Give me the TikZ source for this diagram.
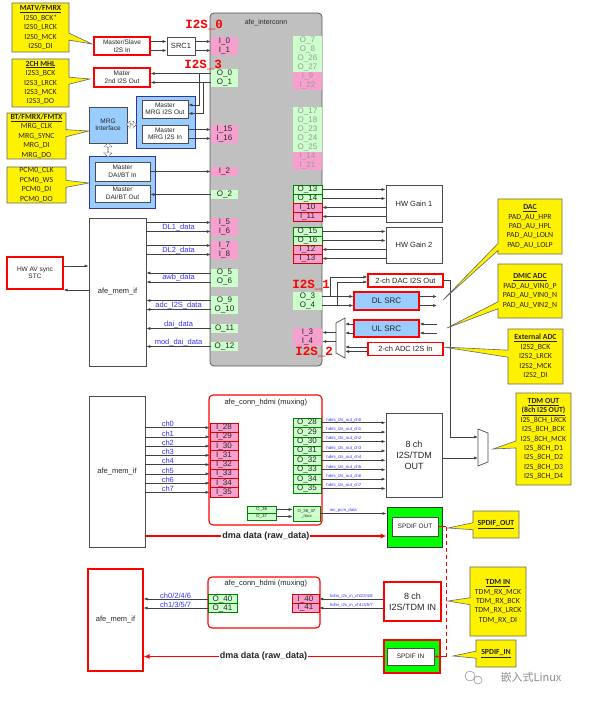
\documentclass[tikz,border=0pt]{standalone}
\usepackage{fontspec}
\setmainfont{Liberation Sans}
\newfontfamily\callfont{Carlito}
\newfontfamily\tagfont{Liberation Mono}
\newfontfamily\cjkfont{Noto Sans CJK SC}
\usetikzlibrary{positioning, shapes.geometric, shapes.arrows, shapes.callouts, arrows.meta, calc}

\definecolor{pinkport}{RGB}{246,160,206}
\definecolor{greenport}{RGB}{204,255,204}
\definecolor{grayblk}{RGB}{192,192,192}
\definecolor{lblue}{RGB}{153,204,255}
\definecolor{lblbl}{RGB}{51,51,255}
\definecolor{spdifg}{RGB}{0,255,0}

\begin{document}
\begin{tikzpicture}[
    x=1pt, y=-1pt,
    sz/.style 2 args={minimum width=#1pt, minimum height=#2pt},
    arr/.style={
        -{Latex[length=4pt,width=3pt]},
        draw=black!75,
        line width=0.7pt
    },
    box/.style={
        rectangle,
        draw=black!70,
        fill=white,
        line width=0.7pt,
        inner sep=0pt,
        align=center,
        text=black!85,
        font=\fontsize{6.5}{7.5}\selectfont
    },
    redbox/.style={
        box,
        draw=red,
        line width=1.1pt
    },
    grp/.style={
        rectangle,
        draw=blue!50!black!80,
        fill=lblue,
        line width=1pt
    },
    hdmi/.style={
        rectangle,
        draw=red,
        fill=white,
        rounded corners=4pt,
        line width=1.1pt
    },
    port/.style={
        rectangle,
        inner sep=0pt,
        minimum width=27pt,
        minimum height=9pt,
        text=black!85,
        font=\fontsize{8}{8}\selectfont
    },
    inp/.style={port, fill=pinkport},
    outp/.style={port, fill=greenport},
    inpb/.style={inp, draw=red!85!black, line width=0.6pt},
    outpb/.style={outp, draw=green!50!black, line width=0.6pt},
    faded/.style={text=black!40},
    lbl/.style={
        text=lblbl,
        inner sep=0.3pt,
        font=\fontsize{7.5}{7.5}\selectfont
    },
    tinylbl/.style={
        text=lblbl,
        inner sep=0.3pt,
        font=\fontsize{4.3}{4.3}\selectfont
    },
    tag/.style={
        text=red,
        font=\tagfont\bfseries\fontsize{12.5}{12.5}\selectfont
    },
    callbox/.style={
        rectangle callout,
        draw=black!60,
        fill=yellow,
        line width=0.6pt,
        inner sep=0pt,
        align=center,
        callout pointer width=7pt,
        text=black!85,
        font=\callfont\fontsize{7.8}{9.4}\selectfont
    },
    dbl/.style={
        double arrow,
        draw=black!70,
        fill=white,
        line width=0.5pt,
        dash pattern=on 1pt off 0.8pt,
        inner sep=0pt,
        double arrow head extend=1.5pt
    },
    mux/.style={draw=black!70, fill=white, line width=0.7pt},
    dma/.style={
        -{Latex[length=6pt,width=5pt]},
        draw=red,
        line width=1.1pt
    },
    dmalbl/.style={
        fill=white,
        inner sep=1pt,
        text=black!85,
        font=\bfseries\fontsize{9}{9}\selectfont
    },
    loopline/.style={
        draw=red,
        line width=0.9pt
    }
]

\useasboundingbox (0,0) rectangle (589,703);

% --- afe_interconn ---
\node[rectangle, draw=black!65, fill=grayblk, rounded corners=4pt, line width=0.8pt, sz={112}{353}] (inter) at (266,189.5) {};
\node[anchor=north, text=black!85, font=\fontsize{7}{7}\selectfont] (intertitle) at (266,16) {afe\_interconn};

% left column
\foreach \n/\yy in {0/41.5,1/50.5,15/129.5,16/138.5,2/171.5,5/222.5,6/231.5,7/245.5,8/254.5}
    \node[inp] (i\n) at (224.5,\yy) {I\_\n};
\foreach \n/\yy in {0/73.5,1/82.5,2/194.5,5/273,6/282,9/300.5,10/309.5,11/328.5,12/346.5}
    \node[outp] (o\n) at (224.5,\yy) {O\_\n};

% right column
\foreach \n/\yy in {7/40.5,8/49.5,26/58.5,27/67.5,17/111.5,18/120.5,23/129.5,24/138.5,25/147.5}
    \node[outp, faded, minimum width=29pt] (o\n) at (307.5,\yy) {O\_\n};
\foreach \n/\yy in {9/76.5,22/85.5,14/156.5,21/165.5}
    \node[inp, faded, minimum width=29pt] (i\n) at (307.5,\yy) {I\_\n};
\foreach \n/\yy in {13/189.5,14/198.5,15/231.5,16/240.5}
    \node[outpb, minimum width=29pt] (o\n) at (307.5,\yy) {O\_\n};
\foreach \n/\yy in {10/207.5,11/216.5,12/249.5,13/258.5}
    \node[inpb, minimum width=29pt] (i\n) at (307.5,\yy) {I\_\n};
\foreach \n/\yy in {3/296.5,4/305.5}
    \node[outp, minimum width=29pt] (o\n) at (307.5,\yy) {O\_\n};
\foreach \n/\yy in {3/332.5,4/341.5}
    \node[inp, minimum width=29pt] (i\n) at (307.5,\yy) {I\_\n};

% --- I2S blocks on the left ---
\node[redbox, sz={56}{18}] (msin) at (122,46) {Master/Slave\\I2S In};
\node[box, sz={28}{18}, font=\fontsize{7.5}{8}\selectfont] (src1) at (181,46) {SRC1};
\node[redbox, sz={56}{19}] (mater) at (122,77.5) {Mater\\2nd I2S Out};

\node[grp, sz={59}{52}] (mrggrp) at (165.5,123) {};
\node[box, sz={46}{18}] (mrgout) at (165,109) {Master\\MRG I2S Out};
\node[box, sz={46}{18}] (mrgin) at (165,134) {Master\\MRG I2S In};
\node[box, fill=lblue, sz={38}{36}] (mrgif) at (108,125) {MRG\\Interface};

\node[grp, sz={66}{52}] (daigrp) at (122,183) {};
\node[box, sz={55}{19}] (daiin) at (122.5,171.5) {Master\\DAI/BT In};
\node[box, sz={55}{17}] (daiout) at (122.5,193.5) {Master\\DAI/BT Out};

\node[dbl, minimum height=10pt, minimum width=7pt] (dblh) at (131.5,124.5) {};
\node[dbl, minimum height=14pt, minimum width=8pt, shape border rotate=90] (dblv) at (108,150) {};

\draw[arr] (msin.east |- i0) -- (src1.west |- i0);
\draw[arr] (msin.east |- i1) -- (src1.west |- i1);
\draw[arr] (src1.east |- i0) -- (i0.west);
\draw[arr] (src1.east |- i1) -- (i1.west);

\draw[arr] (o0.west) -- (mater.east |- o0);
\draw[arr] (o1.west) -- (mater.east |- o1);
\coordinate (jo0) at (199,73.5);
\coordinate (jo1) at (203,82.5);
\draw[arr] (jo0) |- ([yshift=4pt]mrgout.east);
\draw[arr] (jo1) |- ([yshift=-4.5pt]mrgout.east);

\draw[arr] (mrgin.east |- i15) -- (i15.west);
\draw[arr] (mrgin.east |- i16) -- (i16.west);
\draw[arr] (daiin.east |- i2) -- (i2.west);
\draw[arr] (o2.west) -- (daiout.east |- o2);

% --- afe_mem_if (top) ---
\node[box, sz={57}{148}, font=\fontsize{7.5}{8}\selectfont] (mem1) at (117.5,292) {afe\_mem\_if};
\node[redbox, sz={56}{32}] (stc) at (35,273) {HW AV sync\\STC};
\draw[arr] ([yshift=7pt]stc.east) -- ([yshift=7pt]stc.east -| mem1.west);
\draw[arr] ([yshift=2pt]mem1.west) -- ([yshift=2pt]mem1.west -| stc.east);

\draw[arr] (mem1.east |- i5) -- (i5.west);
\draw[arr] (mem1.east |- i6) -- node[lbl, above] {DL1\_data} (i6.west);
\draw[arr] (mem1.east |- i7) -- (i7.west);
\draw[arr] (mem1.east |- i8) -- node[lbl, above] {DL2\_data} (i8.west);
\draw[arr] (o5.west) -- (mem1.east |- o5);
\draw[arr] (o6.west) -- node[lbl, above] {awb\_data} (mem1.east |- o6);
\draw[arr] (o9.west) -- (mem1.east |- o9);
\draw[arr] (o10.west) -- node[lbl, above] {adc\_I2S\_data} (mem1.east |- o10);
\draw[arr] (o11.west) -- node[lbl, above] {dai\_data} (mem1.east |- o11);
\draw[arr] (o12.west) -- node[lbl, above] {mod\_dai\_data} (mem1.east |- o12);

% --- right side: gains, SRC ---
\node[box, sz={56}{37}, font=\fontsize{7.5}{8}\selectfont] (gain1) at (414,203.5) {HW Gain 1};
\node[box, sz={56}{36}, font=\fontsize{7.5}{8}\selectfont] (gain2) at (414,245) {HW Gain 2};
\node[redbox, sz={75}{13}, font=\fontsize{7.5}{8}\selectfont] (dacout) at (405.5,280.5) {2-ch DAC I2S Out};
\node[redbox, fill=lblue, sz={65}{18}, font=\fontsize{8}{8}\selectfont] (dlsrc) at (386.5,301) {DL SRC};
\node[redbox, fill=lblue, sz={65}{17}, font=\fontsize{8}{8}\selectfont] (ulsrc) at (386.5,328.5) {UL SRC};
\node[redbox, sz={75}{12.5}, font=\fontsize{7.5}{8}\selectfont] (adcin) at (405.5,349) {2-ch ADC I2S In};

\draw[mux] (336,323) -- (345,318) -- (345,358) -- (336,353) -- cycle;
\coordinate (ulmuxR) at (345,338);
\coordinate (ulmuxL) at (336,338);

\draw[arr] (o13.east) -- (gain1.west |- o13);
\draw[arr] (o14.east) -- (gain1.west |- o14);
\draw[arr] (gain1.west |- i10) -- (i10.east);
\draw[arr] (gain1.west |- i11) -- (i11.east);
\draw[arr] (o15.east) -- (gain2.west |- o15);
\draw[arr] (o16.east) -- (gain2.west |- o16);
\draw[arr] (gain2.west |- i12) -- (i12.east);
\draw[arr] (gain2.west |- i13) -- (i13.east);

\draw[arr] (o3.east) -- (dlsrc.west |- o3);
\draw[arr] (o4.east) -- (dlsrc.west |- o4);
\coordinate (b3) at (330,296.5);
\coordinate (b4) at (337.5,305.5);
\draw[arr] (b3) |- ([yshift=3.5pt]dacout.west);
\draw[arr] (b4) |- ([yshift=-1.5pt]dacout.west);

\coordinate (dlo3) at (437,296.5);
\coordinate (dlo4) at (437,305.5);
\draw[arr] (dlsrc.east |- dlo3) -- (dlo3);
\draw[arr] (dlsrc.east |- dlo4) -- (dlo4);
\coordinate (uli3) at (437,324);
\coordinate (uli4) at (437,333);
\draw[arr] (uli3) -- (ulsrc.east |- uli3);
\draw[arr] (uli4) -- (ulsrc.east |- uli4);
\draw[arr] (ulsrc.west |- uli3) -- (ulmuxR |- uli3);
\draw[arr] (ulsrc.west |- uli4) -- (ulmuxR |- uli4);
\draw[arr] ([yshift=2pt]adcin.west) -- ([yshift=2pt]adcin.west -| ulmuxR);
\draw[arr] ([yshift=-2.5pt]adcin.west) -- ([yshift=-2.5pt]adcin.west -| ulmuxR);
\draw[arr] (ulmuxL |- i3) -- (i3.east);
\draw[arr] (ulmuxL |- i4) -- (i4.east);

% --- TDM out mux ---
\draw[mux] (478,429) -- (488,433) -- (488,462) -- (478,466) -- cycle;
\coordinate (tdmmuxL) at (478,447.5);
\coordinate (dacdn) at (450,437);
\draw[arr] (dacout.east) -| (dacdn) -- (tdmmuxL |- dacdn);

% --- afe_conn_hdmi (out) ---
\node[box, sz={56}{151}, font=\fontsize{7.5}{8}\selectfont] (mem2) at (117,471.5) {afe\_mem\_if};
\node[hdmi, sz={113}{130}] (hdmi1) at (265.5,460) {};
\node[anchor=west, text=black!85, font=\fontsize{7.5}{7.5}\selectfont] (hdmi1t) at (221,402.5) {afe\_conn\_hdmi (muxing)};
\node[box, sz={56}{84}, font=\fontsize{9}{11}\selectfont] (tdmout) at (414,455) {8 ch\\I2S/TDM\\OUT};

\foreach \k in {0,...,7} {
    \pgfmathtruncatemacro{\n}{28+\k}
    \node[inpb, sz={28}{9.25}] (i\n) at (224,427.6+9.25*\k) {I\_\n};
    \node[outpb, sz={28}{9.4}] (o\n) at (307,422.7+9.4*\k) {O\_\n};
    \draw[arr] (mem2.east |- i\n) -- node[lbl, above, pos=.35] {ch\k} (i\n.west);
    \draw[arr] (o\n.east) -- node[tinylbl, above, pos=.35] {hdmi\_i2s\_out\_ch\k} (tdmout.west |- o\n);
}
\draw[arr] ([yshift=-3pt]tdmout.east) -- ([yshift=-3pt]tdmout.east -| tdmmuxL);

\node[outpb, sz={29}{7}, font=\fontsize{4.5}{4.5}\selectfont] (o36) at (261.5,509.5) {O\_36};
\node[outpb, sz={29}{7}, font=\fontsize{4.5}{4.5}\selectfont] (o37) at (261.5,516.5) {O\_37};
\node[outpb, sz={27}{15}, align=center, font=\fontsize{4.3}{5}\selectfont] (o3637) at (306.5,513.5) {O\_36\_37\\\_mux};
\node[rectangle, draw=black!80, fill=spdifg, line width=1pt, sz={55}{40}] (spdifout) at (414.5,527) {};
\node[box, sz={46}{19}, font=\fontsize{6.5}{7}\selectfont] (spdifoutin) at (415,526.5) {SPDIF OUT};

\draw[arr] (o36.east) -- (o3637.west |- o36);
\draw[arr] (o37.east) -- (o3637.west |- o37);
\draw[arr] (o3637.east) -- node[tinylbl, above, pos=.35] {iec\_pcm\_data} (spdifout.west |- o3637);
\coordinate (dmaout) at ([yshift=-9pt]spdifout.west);
\draw[dma] (mem2.east |- dmaout) -- node[dmalbl] {dma data (raw\_data)} (dmaout);

% --- afe_conn_hdmi (in) ---
\node[redbox, sz={55}{102}, font=\fontsize{7.5}{8}\selectfont] (mem3) at (115.5,620) {afe\_mem\_if};
\node[hdmi, sz={112}{51}] (hdmi2) at (264,602.5) {};
\node[anchor=west, text=black!85, font=\fontsize{7.5}{7.5}\selectfont] (hdmi2t) at (221,584) {afe\_conn\_hdmi (muxing)};
\node[outpb, minimum width=29pt] (o40) at (222.5,599) {O\_40};
\node[outpb, minimum width=29pt] (o41) at (222.5,608) {O\_41};
\node[inpb] (i40) at (305.5,599) {I\_40};
\node[inpb] (i41) at (305.5,608) {I\_41};
\node[redbox, sz={57}{39}, font=\fontsize{9}{11}\selectfont] (tdmin) at (412.5,601.5) {8 ch\\I2S/TDM IN};
\node[rectangle, draw=red, fill=spdifg, line width=1.1pt, sz={56}{33}] (spdifin) at (412,656.5) {};
\node[box, sz={47}{17}, font=\fontsize{6.5}{7}\selectfont] (spdifinin) at (410.5,656.5) {SPDIF IN};

\draw[arr] (tdmin.west |- i40) -- node[tinylbl, above] {hdmi\_i2s\_in\_ch0/2/4/6} (i40.east);
\draw[arr] (tdmin.west |- i41) -- node[tinylbl, above] {hdmi\_i2s\_in\_ch1/3/5/7} (i41.east);
\draw[arr] (o40.west) -- node[lbl, above] {ch0/2/4/6} (mem3.east |- o40);
\draw[arr] (o41.west) -- node[lbl, above] {ch1/3/5/7} (mem3.east |- o41);
\draw[dma] (spdifin.west) -- node[dmalbl] {dma data (raw\_data)} (mem3.east |- spdifin);

% SPDIF loopback
\coordinate (spj) at (446,526.5);
\draw[loopline] (spdifoutin.east) -- (spj);
\draw[loopline, dash pattern=on 4pt off 3pt] (spj) -- (spj |- spdifinin.east);
\draw[loopline, -{Latex[length=3pt,width=3pt]}] (spj |- spdifinin.east) -- (spdifinin.east);

% --- I2S tags ---
\node[tag] (tag0) at (204,25) {I2S\_0};
\node[tag] (tag3) at (203,65) {I2S\_3};
\node[tag] (tag1) at (311,285) {I2S\_1};
\node[tag] (tag2) at (314,352) {I2S\_2};

% --- pin callouts ---
\node[callbox, sz={57}{49}, callout absolute pointer={(92,44)}] (cmatv) at (40.5,27.5)
    {\underline{\textbf{MATV/FMRX}}\\I2S0\_BCK*\\I2S0\_LRCK\\I2S0\_MCK\\I2S0\_DI};
\node[callbox, sz={57}{48}, callout absolute pointer={(90,79)}] (cmhl) at (40.5,83)
    {\underline{\textbf{2CH MHL}}\\I2S3\_BCK\\I2S3\_LRCK\\I2S3\_MCK\\I2S3\_DO};
\node[callbox, sz={59}{46}, callout absolute pointer={(89,131)}] (cbt) at (36.5,136)
    {\underline{\textbf{BT/FMRX/FMTX}}\\MRG\_CLK\\MRG\_SYNC\\MRG\_DI\\MRG\_DO};
\node[callbox, sz={59}{36}, callout absolute pointer={(89,183)}] (cpcm) at (36.5,185)
    {PCM0\_CLK\\PCM0\_WS\\PCM0\_DI\\PCM0\_DO};
\node[callbox, sz={64}{55}, callout absolute pointer={(443,300)}] (cdac) at (530,226.5)
    {\underline{\textbf{DAC}}\\PAD\_AU\_HPR\\PAD\_AU\_HPL\\PAD\_AU\_LOLN\\PAD\_AU\_LOLP};
\node[callbox, sz={64}{54}, callout absolute pointer={(447,328)}] (cdmic) at (530,291)
    {\underline{\textbf{DMIC ADC}}\\PAD\_AU\_VIN0\_P\\PAD\_AU\_VIN0\_N\\PAD\_AU\_VIN2\_N};
\node[callbox, sz={55}{55}, callout absolute pointer={(443,347)}] (cext) at (535.5,356.5)
    {\underline{\textbf{External ADC}}\\I2S2\_BCK\\I2S2\_LRCK\\I2S2\_MCK\\I2S2\_DI};
\node[callbox, sz={55}{92}, callout absolute pointer={(493,449)}] (ctdmo) at (543.5,439)
    {\underline{\textbf{TDM OUT}}\\\underline{\textbf{(8ch I2S OUT)}}\\I2S\_8CH\_LRCK\\I2S\_8CH\_BCK\\I2S\_8CH\_MCK\\I2S\_8CH\_D1\\I2S\_8CH\_D2\\I2S\_8CH\_D3\\I2S\_8CH\_D4};
\node[callbox, sz={46}{27}, callout absolute pointer={(448,528)}] (cspo) at (496,524.5)
    {\underline{\textbf{SPDIF\_OUT}}};
\node[callbox, sz={56}{69}, callout absolute pointer={(448,601)}] (ctdmi) at (498,601.5)
    {\underline{\textbf{TDM IN}}\\TDM\_RX\_MCK\\TDM\_RX\_BCK\\TDM\_RX\_LRCK\\TDM\_RX\_DI};
\node[callbox, sz={40}{27}, callout absolute pointer={(453,656)}] (cspi) at (496,653.5)
    {\underline{\textbf{SPDIF\_IN}}};

% watermark
\draw[black!40, line width=0.6pt] (470,676) circle (5pt) (478,680) circle (4pt);
\node[text=black!45, font=\cjkfont\fontsize{11}{11}\selectfont] (wmark) at (531,677) {嵌入式Linux};

\end{tikzpicture}
\end{document}
